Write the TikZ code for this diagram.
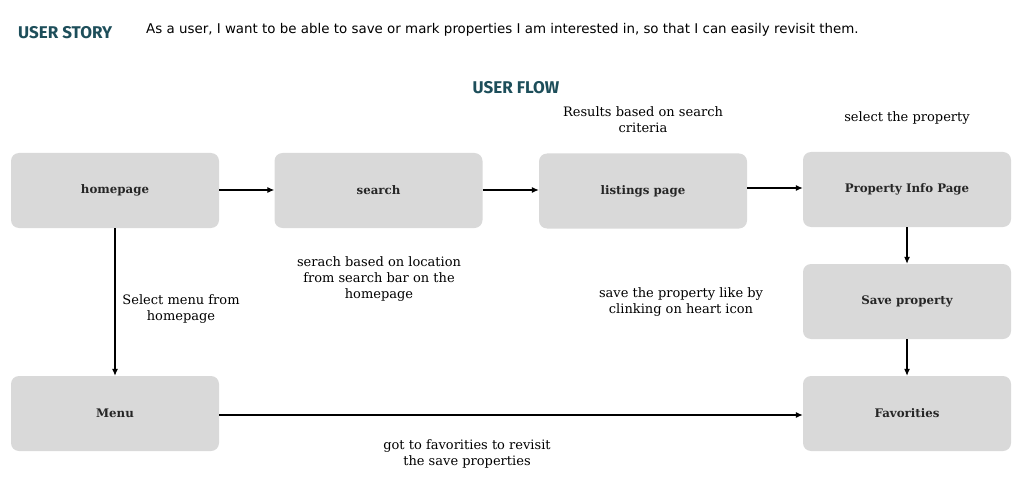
\documentclass[tikz,border=0pt]{standalone}
\usepackage{fontspec}
\setmainfont{DejaVu Serif}
\newfontfamily\headfont{Fira Sans}
\newfontfamily\bodysans{DejaVu Sans}
\usetikzlibrary{arrows.meta}
\definecolor{teal}{HTML}{1D4E5A}
\definecolor{boxgray}{HTML}{D9D9D9}
\tikzset{
  x=1pt, y=-1pt,
  flowbox/.style={fill=boxgray, rounded corners=8pt, minimum width=208pt, minimum height=75pt, inner sep=0pt, font=\bfseries\fontsize{11.8}{15}\selectfont, text=black!85},
  note/.style={align=center, font=\fontsize{13}{16}\selectfont, inner sep=0pt},
  heading/.style={font=\headfont\bfseries\fontsize{17}{20}\selectfont, text=teal, inner sep=0pt},
  conn/.style={-{Latex[length=7pt,width=6pt]}, line width=1.1pt, black},
}
\begin{document}
\begin{tikzpicture}
\useasboundingbox (0,0) rectangle (1024,489);
\node[heading, anchor=west] (story) at (18,33) {USER STORY};
\node[anchor=west, inner sep=0pt, font=\bodysans\fontsize{13.4}{16}\selectfont] (storytext) at (146,30) {As a user, I want to be able to save or mark properties I am interested in, so that I can easily revisit them.};
\node[heading] (flow) at (516,88) {USER FLOW};

\node[flowbox] (home) at (115,190.5) {homepage};
\node[flowbox] (search) at (378.5,190.5) {search};
\node[flowbox] (list) at (643,191) {listings page};
\node[flowbox] (prop) at (907,189.5) {Property Info Page};
\node[flowbox] (save) at (907,301.5) {Save property};
\node[flowbox] (menu) at (115,413.5) {Menu};
\node[flowbox] (fav) at (907,413.5) {Favorities};

\draw[conn] (home.east |- 0,190) -- (search.west |- 0,190);
\draw[conn] (search.east |- 0,190) -- (list.west |- 0,190);
\draw[conn] (list.east |- 0,188) -- (prop.west |- 0,188);
\draw[conn] (home.south) -- (menu.north);
\draw[conn] (prop.south) -- (save.north);
\draw[conn] (save.south) -- (fav.north);
\draw[conn] (menu.east |- 0,415) -- (fav.west |- 0,415);

\node[note] (n1) at (643,120) {Results based on search\\criteria};
\node[note] (n2) at (907,118) {select the property};
\node[note] (n3) at (379,279) {serach based on location\\from search bar on the\\homepage};
\node[note] (n4) at (181,309) {Select menu from\\homepage};
\node[note] (n5) at (681,302) {save the property like by\\clinking on heart icon};
\node[note] (n6) at (467,454) {got to favorities to revisit\\the save properties};
\end{tikzpicture}
\end{document}
